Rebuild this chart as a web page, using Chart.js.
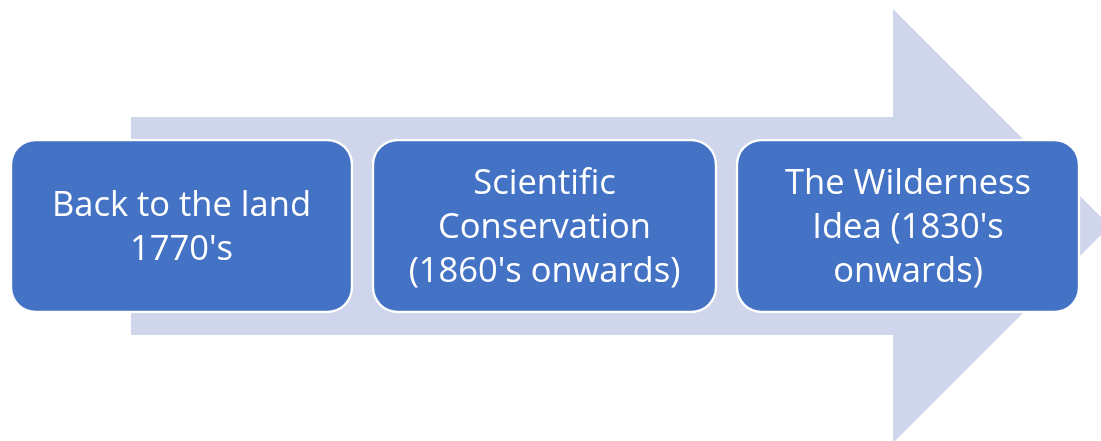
<!DOCTYPE html>
<html>
<head>
<meta charset="utf-8">
<script src="https://cdn.jsdelivr.net/npm/chart.js@4"></script>
<style>
  html, body { margin: 0; padding: 0; background: #ffffff; }
  #wrap { position: relative; width: 1101px; height: 441px; }
</style>
</head>
<body>
<div id="wrap"><canvas id="myChart1"></canvas></div>
<script>
// Etapas del diagrama (texto de cada caja)
const stageLabels = [
    ['Back to the land', "1770's"],
    ['Scientific', 'Conservation', "(1860's onwards)"],
    ['The Wilderness', "Idea (1830's", 'onwards)']
];
// Extensión horizontal de cada caja
const stageStart = [10, 372, 736];
const stageEnd = [353, 717, 1080];
const stageCenterY = [226, 226, 226];

// Contorno de la flecha de fondo
const arrowX = [131, 893, 893, 1110, 893, 893, 131, 131];
const arrowY = [117, 117, 9, 226, 443, 335, 335, 117];

document.addEventListener('DOMContentLoaded', function () {
    const ctx1 = document.getElementById('myChart1').getContext('2d');

    const boxData = stageStart.map((s, i) => ({ x: [s, stageEnd[i]], y: stageCenterY[i] }));
    const arrowData = arrowX.map((x, i) => ({ x: x, y: arrowY[i] }));

    // Plugin para escribir el texto dentro de cada caja
    const boxText = {
        id: 'boxText',
        afterDatasetsDraw(chart) {
            const meta = chart.getDatasetMeta(0);
            const c = chart.ctx;
            c.save();
            c.fillStyle = '#ffffff';
            c.font = '34.5px "Open Sans", Lato, sans-serif';
            c.textAlign = 'center';
            c.textBaseline = 'alphabetic';
            meta.data.forEach((bar, i) => {
                const lines = stageLabels[i];
                const lh = 44;
                const first = bar.y + 12 - (lines.length - 1) * lh / 2;
                const cx = (bar.x + bar.base) / 2;
                lines.forEach((t, j) => c.fillText(t, cx, first + j * lh));
            });
            c.restore();
        }
    };

    new Chart(ctx1, {
        type: 'scatter',
        data: {
            datasets: [{
                type: 'bar',
                indexAxis: 'y',
                data: boxData,
                backgroundColor: '#4472C4',
                borderColor: '#ffffff',
                borderWidth: 2.5,
                borderRadius: 26,
                borderSkipped: false,
                barThickness: 174,
                order: 0
            }, {
                type: 'line',
                data: arrowData,
                backgroundColor: '#CFD5EA',
                borderWidth: 0,
                pointRadius: 0,
                pointHoverRadius: 0,
                tension: 0,
                fill: 'shape',
                order: 1
            }]
        },
        options: {
            responsive: true,
            maintainAspectRatio: false,
            animation: false,
            layout: { padding: 0, autoPadding: false },
            plugins: { legend: { display: false }, tooltip: { enabled: false } },
            scales: {
                x: { type: 'linear', min: 0, max: 1101, offset: false, display: false },
                y: { type: 'linear', min: 0, max: 441, reverse: true, offset: false, display: false }
            }
        },
        plugins: [boxText]
    });
});
</script>
</body>
</html>
